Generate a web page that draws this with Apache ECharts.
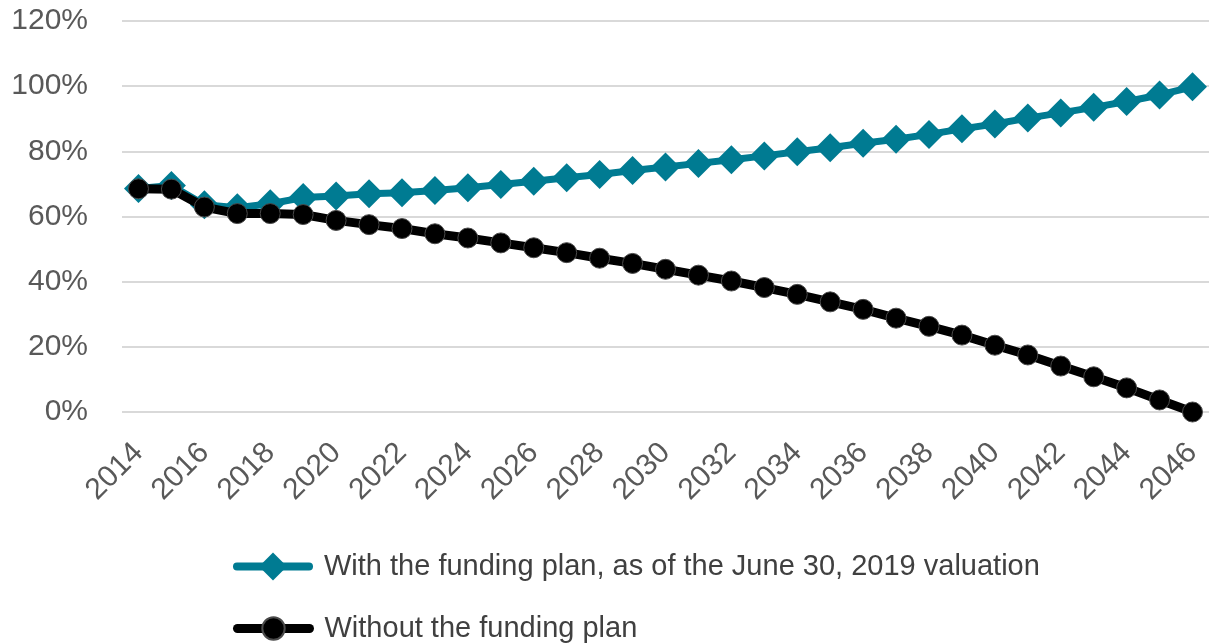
<!DOCTYPE html>
<html>
<head>
<meta charset="utf-8">
<script src="https://cdn.jsdelivr.net/npm/echarts@6/dist/echarts.min.js"></script>
<style>
  html, body { margin: 0; padding: 0; background: #fff; }
  #chart { width: 1212px; height: 644px; }
</style>
</head>
<body>
<div id="chart"></div>
<script>
// Funded ratio projection, fiscal years 2014–2046 (percent)
const years = [];
for (let y = 2014; y <= 2046; y++) years.push(String(y));

const withPlan = [
  68.6, 69.5, 63.6, 62.7, 63.9, 65.8, 66.3, 67.0, 67.3, 68.0,
  68.8, 69.8, 70.8, 71.9, 72.9, 74.1, 75.2, 76.3, 77.4, 78.6,
  79.9, 81.1, 82.5, 83.7, 85.2, 86.9, 88.4, 90.2, 91.8, 93.5,
  95.3, 97.3, 99.8
];

const withoutPlan = [
  68.5, 68.4, 62.9, 60.9, 60.9, 60.6, 58.8, 57.5, 56.3, 54.7,
  53.4, 51.9, 50.4, 48.9, 47.2, 45.6, 43.8, 42.0, 40.2, 38.2,
  36.1, 33.8, 31.5, 28.8, 26.3, 23.6, 20.5, 17.5, 14.1, 10.8,
  7.4, 3.7, 0.0
];

const seriesNames = [
  'With the funding plan, as of the June 30, 2019 valuation',
  'Without the funding plan'
];

const FONT = '"Liberation Sans", Arial, sans-serif';
const TEAL = '#007b92';

const legendText = {
  fontFamily: FONT, fontSize: 29, color: '#404040', padding: [0, 0, 0, 10]
};

const chart = echarts.init(document.getElementById('chart'), null, { renderer: 'canvas' });

chart.setOption({
  animation: false,
  backgroundColor: '#fff',
  grid: { left: 122, right: 3, top: 21, bottom: 232 },
  legend: [
    {
      left: 233, top: 552, padding: 0,
      itemWidth: 72, itemHeight: 35,
      lineStyle: { width: 8, cap: 'round' },
      textStyle: legendText,
      data: [seriesNames[0]]
    },
    {
      left: 233, top: 614, padding: 0,
      itemWidth: 72, itemHeight: 28,
      lineStyle: { width: 9, cap: 'round' },
      textStyle: legendText,
      data: [seriesNames[1]]
    }
  ],
  xAxis: {
    type: 'category',
    data: years,
    boundaryGap: true,
    axisLine: { show: false },
    axisTick: { show: false },
    axisLabel: {
      interval: 1,
      rotate: 45,
      margin: 36,
      color: '#595959',
      fontFamily: FONT,
      fontSize: 30
    }
  },
  yAxis: {
    type: 'value',
    min: 0,
    max: 120,
    interval: 20,
    axisLine: { show: false },
    axisTick: { show: false },
    splitLine: { lineStyle: { color: '#d9d9d9', width: 2 } },
    axisLabel: {
      margin: 34,
      color: '#595959',
      fontFamily: FONT,
      fontSize: 30,
      formatter: '{value}%'
    }
  },
  series: [
    {
      name: seriesNames[0],
      type: 'line',
      data: withPlan,
      z: 2,
      showAllSymbol: true,
      symbol: 'diamond',
      symbolSize: [29, 29],
      lineStyle: { color: TEAL, width: 7 },
      itemStyle: { color: TEAL }
    },
    {
      name: seriesNames[1],
      type: 'line',
      data: withoutPlan,
      z: 3,
      showAllSymbol: true,
      symbol: 'circle',
      symbolSize: 20,
      lineStyle: { color: '#000', width: 9 },
      itemStyle: { color: '#000', borderColor: '#4a4a4a', borderWidth: 1 }
    }
  ]
});
</script>
</body>
</html>
